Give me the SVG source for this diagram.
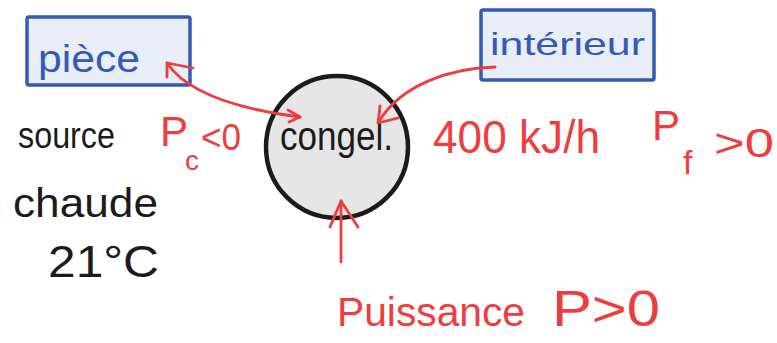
<svg xmlns="http://www.w3.org/2000/svg" width="777" height="343" viewBox="0 0 777 343">
  <style>
    .box { fill: #e8edf7; stroke: #3659b3; stroke-width: 3.5; }
    .hand { font-family: "Liberation Sans", "DejaVu Sans", sans-serif; }
    .blue { fill: #3659b3; }
    .ink { fill: #1b1b1b; }
    .red { fill: #ee3d3f; }
    .wire { fill: none; stroke: #ee3d3f; stroke-width: 2.8; stroke-linecap: round; stroke-linejoin: round; }
  </style>
  <rect width="777" height="343" fill="#ffffff"/>

  <!-- room box -->
  <g id="piece">
    <rect class="box" x="27" y="17" width="163" height="68" rx="2"/>
    <text class="hand blue" x="38" y="72" font-size="38" textLength="102" lengthAdjust="spacingAndGlyphs">pièce</text>
  </g>

  <!-- inside box -->
  <g id="interieur">
    <rect class="box" x="481" y="10" width="173" height="70" rx="2"/>
    <text class="hand blue" x="490" y="55" font-size="32" textLength="155" lengthAdjust="spacingAndGlyphs">intérieur</text>
  </g>

  <!-- freezer -->
  <g id="congel">
    <circle cx="337" cy="147" r="71" fill="#e6e6e6" stroke="#1b1b1b" stroke-width="4.5"/>
    <text class="hand ink" x="280" y="150" font-size="40" textLength="113" lengthAdjust="spacingAndGlyphs">congel.</text>
  </g>

  <!-- hot source label -->
  <g id="source">
    <text class="hand ink" x="18" y="148" font-size="36" textLength="97" lengthAdjust="spacingAndGlyphs">source</text>
    <text class="hand ink" x="13" y="217" font-size="40" textLength="145" lengthAdjust="spacingAndGlyphs">chaude</text>
    <text class="hand ink" x="48" y="277" font-size="44" textLength="111" lengthAdjust="spacingAndGlyphs">21°C</text>
  </g>

  <!-- power labels -->
  <g id="labels">
    <text class="hand red" x="160" y="146" font-size="42">P</text>
    <text class="hand red" x="185" y="170" font-size="28">c</text>
    <text class="hand red" x="201" y="150" font-size="36" textLength="40" lengthAdjust="spacingAndGlyphs">&lt;0</text>

    <text class="hand red" x="433" y="153" font-size="46" textLength="167" lengthAdjust="spacingAndGlyphs">400 kJ/h</text>

    <text class="hand red" x="652" y="140" font-size="42">P</text>
    <text class="hand red" x="683" y="174" font-size="34">f</text>
    <text class="hand red" x="714" y="157" font-size="40" textLength="60" lengthAdjust="spacingAndGlyphs">&gt;0</text>

    <text class="hand red" x="337" y="326" font-size="41" textLength="188" lengthAdjust="spacingAndGlyphs">Puissance</text>
    <text class="hand red" x="552" y="326" font-size="50" textLength="108" lengthAdjust="spacingAndGlyphs">P&gt;0</text>
  </g>

  <!-- connectors -->
  <g id="connectors">
    <path class="wire" d="M167,63 C185,90 230,108 300,117"/>
    <path class="wire" d="M193,68 L167,63 L167,77"/>
    <path class="wire" d="M288,110 L300,117 L289,122"/>

    <path class="wire" d="M495,67 C450,68 400,85 378,123"/>
    <path class="wire" d="M380,106 L378,123 L398,118"/>

    <path class="wire" d="M341,262 L341,201"/>
    <path class="wire" d="M330,227 L341,201 L358,227"/>
  </g>
</svg>
